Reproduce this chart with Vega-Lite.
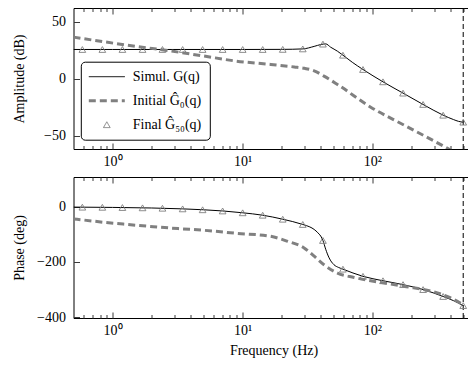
{
  "$schema": "https://vega.github.io/schema/vega-lite/v6.json",
  "padding": {"left": 11.5, "top": 7, "right": 0, "bottom": 0},
  "bounds": "flush",
  "spacing": 28,
  "background": "white",
  "datasets": {
    "amp": [
      {"f": 0.5, "v": 25.7, "s": "S"}, {"f": 1, "v": 25.7, "s": "S"}, {"f": 5, "v": 25.7, "s": "S"}, {"f": 10, "v": 25.7, "s": "S"},
      {"f": 20.4, "v": 25.8, "s": "S"}, {"f": 29.1, "v": 26.2, "s": "S"}, {"f": 35.6, "v": 28.4, "s": "S"}, {"f": 40, "v": 30.0, "s": "S"},
      {"f": 43.7, "v": 30.6, "s": "S"}, {"f": 47.7, "v": 27.7, "s": "S"}, {"f": 53.8, "v": 24.2, "s": "S"}, {"f": 59.3, "v": 20.7, "s": "S"},
      {"f": 70, "v": 14.5, "s": "S"}, {"f": 84.6, "v": 8.2, "s": "S"}, {"f": 120.6, "v": -2.6, "s": "S"}, {"f": 172.1, "v": -12.5, "s": "S"},
      {"f": 245.5, "v": -22.4, "s": "S"}, {"f": 350.3, "v": -31.8, "s": "S"}, {"f": 420, "v": -35.6, "s": "S"}, {"f": 460, "v": -37.2, "s": "S"},
      {"f": 500, "v": -37.9, "s": "S"},
      {"f": 0.5, "v": 36.5, "s": "I"}, {"f": 0.85, "v": 32.5, "s": "I"}, {"f": 1.5, "v": 28.5, "s": "I"}, {"f": 2.46, "v": 25.3, "s": "I"},
      {"f": 5, "v": 20, "s": "I"}, {"f": 9, "v": 15.5, "s": "I"}, {"f": 16.5, "v": 12.6, "s": "I"}, {"f": 25, "v": 10.4, "s": "I"},
      {"f": 30, "v": 9.2, "s": "I"}, {"f": 35.6, "v": 7, "s": "I"}, {"f": 42.4, "v": 2.4, "s": "I"}, {"f": 53.8, "v": -4.9, "s": "I"},
      {"f": 97, "v": -24.8, "s": "I"}, {"f": 175.4, "v": -40.5, "s": "I"}, {"f": 316.6, "v": -56, "s": "I"}, {"f": 500, "v": -68.5, "s": "I"},
      {"f": 0.585, "v": 25.7, "s": "F"}, {"f": 0.834, "v": 25.7, "s": "F"}, {"f": 1.19, "v": 25.7, "s": "F"}, {"f": 1.70, "v": 25.7, "s": "F"},
      {"f": 2.42, "v": 25.7, "s": "F"}, {"f": 3.46, "v": 25.7, "s": "F"}, {"f": 4.93, "v": 25.7, "s": "F"}, {"f": 7.03, "v": 25.7, "s": "F"},
      {"f": 10.03, "v": 25.7, "s": "F"}, {"f": 14.3, "v": 25.7, "s": "F"}, {"f": 20.4, "v": 25.8, "s": "F"}, {"f": 29.1, "v": 26.2, "s": "F"},
      {"f": 41.6, "v": 30.4, "s": "F"}, {"f": 59.3, "v": 20.7, "s": "F"}, {"f": 84.6, "v": 8.2, "s": "F"}, {"f": 120.6, "v": -2.6, "s": "F"},
      {"f": 172.1, "v": -12.5, "s": "F"}, {"f": 245.5, "v": -22.4, "s": "F"}, {"f": 350.3, "v": -31.8, "s": "F"}, {"f": 500, "v": -37.9, "s": "F"}
    ],
    "ph": [
      {"f": 0.5, "v": -1.1, "s": "S"}, {"f": 1, "v": -2.2, "s": "S"}, {"f": 2, "v": -4.3, "s": "S"}, {"f": 3.46, "v": -7.5, "s": "S"},
      {"f": 5, "v": -10.8, "s": "S"}, {"f": 7.03, "v": -15, "s": "S"}, {"f": 10.03, "v": -21.7, "s": "S"}, {"f": 14.3, "v": -30.5, "s": "S"},
      {"f": 20.4, "v": -45, "s": "S"}, {"f": 29.1, "v": -64, "s": "S"}, {"f": 33, "v": -73, "s": "S"}, {"f": 35.6, "v": -82, "s": "S"},
      {"f": 38, "v": -94, "s": "S"}, {"f": 40, "v": -106, "s": "S"}, {"f": 41.6, "v": -122, "s": "S"}, {"f": 43.7, "v": -154, "s": "S"},
      {"f": 46.4, "v": -185, "s": "S"}, {"f": 50.6, "v": -210, "s": "S"}, {"f": 55, "v": -220, "s": "S"}, {"f": 59.3, "v": -226, "s": "S"},
      {"f": 84.6, "v": -252, "s": "S"}, {"f": 120.6, "v": -268, "s": "S"}, {"f": 172.1, "v": -282, "s": "S"}, {"f": 245.5, "v": -300, "s": "S"},
      {"f": 350.3, "v": -325, "s": "S"}, {"f": 420, "v": -340, "s": "S"}, {"f": 500, "v": -358, "s": "S"},
      {"f": 0.5, "v": -44, "s": "I"}, {"f": 0.6, "v": -48, "s": "I"}, {"f": 0.85, "v": -56, "s": "I"}, {"f": 1.3, "v": -64, "s": "I"},
      {"f": 2.06, "v": -72, "s": "I"}, {"f": 3.2, "v": -79, "s": "I"}, {"f": 5, "v": -85, "s": "I"}, {"f": 9, "v": -96, "s": "I"},
      {"f": 16.5, "v": -107, "s": "I"}, {"f": 22.2, "v": -125, "s": "I"}, {"f": 29.8, "v": -149, "s": "I"}, {"f": 35.6, "v": -179, "s": "I"},
      {"f": 42.4, "v": -210, "s": "I"}, {"f": 53.8, "v": -240, "s": "I"}, {"f": 72.3, "v": -256, "s": "I"}, {"f": 97, "v": -268, "s": "I"},
      {"f": 175.4, "v": -288, "s": "I"}, {"f": 316.6, "v": -312, "s": "I"}, {"f": 400, "v": -330, "s": "I"}, {"f": 500, "v": -355, "s": "I"},
      {"f": 0.585, "v": -1.3, "s": "F"}, {"f": 0.834, "v": -1.8, "s": "F"}, {"f": 1.19, "v": -2.6, "s": "F"}, {"f": 1.70, "v": -3.7, "s": "F"},
      {"f": 2.42, "v": -5.2, "s": "F"}, {"f": 3.46, "v": -7.5, "s": "F"}, {"f": 4.93, "v": -10.7, "s": "F"}, {"f": 7.03, "v": -15, "s": "F"},
      {"f": 10.03, "v": -21.7, "s": "F"}, {"f": 14.3, "v": -30.5, "s": "F"}, {"f": 20.4, "v": -45, "s": "F"}, {"f": 29.1, "v": -64, "s": "F"},
      {"f": 41.6, "v": -122, "s": "F"}, {"f": 59.3, "v": -226, "s": "F"}, {"f": 84.6, "v": -252, "s": "F"}, {"f": 120.6, "v": -268, "s": "F"},
      {"f": 172.1, "v": -282, "s": "F"}, {"f": 245.5, "v": -300, "s": "F"}, {"f": 350.3, "v": -325, "s": "F"}, {"f": 500, "v": -358, "s": "F"}
    ]
  },
  "resolve": {"scale": {"color": "independent"}, "legend": {"color": "independent"}},
  "vconcat": [
    {
      "width": 400,
      "height": 141,
      "resolve": {"axis": {"x": "independent", "y": "independent"}},
      "layer": [
        {
          "data": {"values": [{"f": 500}]},
          "mark": {"type": "rule", "color": "#000", "strokeWidth": 1, "strokeDash": [5, 3]},
          "encoding": {
            "x": {"field": "f", "type": "quantitative", "scale": {"type": "log", "domain": [0.5, 600], "nice": false},
              "axis": {"orient": "bottom", "title": null, "labels": false, "domain": false, "offset": -3.5, "tickSize": 3.5,
                "values": [0.6,0.7,0.8,0.9,2,3,4,5,6,7,8,9,20,30,40,50,60,70,80,90,200,300,400,500]}}
          }
        },
        {
          "data": {"name": "amp"},
          "transform": [{"filter": "datum.s === 'S'"}],
          "mark": {"type": "line", "strokeWidth": 1, "interpolate": "monotone", "clip": true},
          "encoding": {
            "x": {"field": "f", "type": "quantitative", "scale": {"type": "log", "domain": [0.5, 600], "nice": false},
              "axis": {"orient": "top", "title": null, "labels": false, "domain": false, "offset": -6, "tickSize": 6, "values": [1, 10, 100]}},
            "y": {"field": "v", "type": "quantitative", "scale": {"domain": [-61.4, 62], "nice": false, "zero": false},
              "axis": {"orient": "right", "title": null, "labels": false, "domain": false, "offset": -6, "tickSize": 6, "values": [-50, 0, 50]}},
            "color": {"field": "s", "type": "nominal",
              "scale": {"domain": ["S", "I", "F"], "range": ["#000000", "#808080", "#808080"]},
              "legend": {
                "orient": "none", "legendX": 7.3, "legendY": 53.7, "title": null,
                "labelExpr": "datum.value === 'S' ? 'Simul. G(q)' : datum.value === 'I' ? 'Initial Ĝ₀(q)' : 'Final Ĝ₅₀(q)'",
                "encode": {
                  "symbols": {"update": {
                    "x": {"value": 18},
                    "shape": {"signal": "datum.value === 'F' ? 'triangle-up' : 'stroke'"},
                    "size": {"signal": "datum.value === 'F' ? 45 : 1296"},
                    "strokeWidth": {"signal": "datum.value === 'I' ? 3 : 1"},
                    "strokeDash": {"signal": "datum.value === 'I' ? [7, 4] : [1, 0]"},
                    "stroke": {"signal": "datum.value === 'S' ? '#000000' : '#808080'"},
                    "fill": {"value": "transparent"},
                    "opacity": {"value": 1}
                  }},
                  "labels": {"update": {"x": {"value": 44}}}
                }
              }}
          }
        },
        {
          "data": {"name": "amp"},
          "transform": [{"filter": "datum.s === 'I'"}],
          "mark": {"type": "line", "strokeWidth": 3, "strokeDash": [7, 4], "interpolate": "monotone", "clip": true},
          "encoding": {
            "x": {"field": "f", "type": "quantitative", "scale": {"type": "log", "domain": [0.5, 600], "nice": false},
              "axis": {"orient": "bottom", "title": null, "domain": false, "offset": -6, "tickSize": 6, "values": [1, 10, 100],
                "labelExpr": "datum.value == 1 ? '10⁰' : datum.value == 10 ? '10¹' : '10²'",
                "labelPadding": 5}},
            "y": {"field": "v", "type": "quantitative", "scale": {"domain": [-61.4, 62], "nice": false, "zero": false},
              "axis": {"orient": "left", "title": "Amplitude (dB)", "domain": false, "values": [-50, 0, 50], "offset": -6, "tickSize": 6, "labelPadding": 8,
                "titleX": -56.5, "titleY": 70.5, "titleBaseline": "alphabetic", "titleAngle": -90, "titleAlign": "center"}},
            "color": {"field": "s", "type": "nominal", "scale": {"domain": ["S", "I", "F"], "range": ["#000000", "#808080", "#808080"]}}
          }
        },
        {
          "data": {"name": "amp"},
          "transform": [{"filter": "datum.s === 'F'"}],
          "mark": {"type": "point", "shape": "triangle-up", "filled": false, "size": 45, "strokeWidth": 0.9, "opacity": 1},
          "encoding": {
            "x": {"field": "f", "type": "quantitative", "scale": {"type": "log", "domain": [0.5, 600], "nice": false},
              "axis": {"orient": "top", "title": null, "labels": false, "domain": false, "offset": -3.5, "tickSize": 3.5,
                "values": [0.6,0.7,0.8,0.9,2,3,4,5,6,7,8,9,20,30,40,50,60,70,80,90,200,300,400,500]}},
            "y": {"field": "v", "type": "quantitative", "scale": {"domain": [-61.4, 62], "nice": false, "zero": false}, "axis": null},
            "color": {"field": "s", "type": "nominal", "scale": {"domain": ["S", "I", "F"], "range": ["#000000", "#808080", "#808080"]}}
          }
        }
      ]
    },
    {
      "width": 400,
      "height": 141,
      "resolve": {"axis": {"x": "independent", "y": "independent"}},
      "layer": [
        {
          "data": {"values": [{"f": 500}]},
          "mark": {"type": "rule", "color": "#000", "strokeWidth": 1, "strokeDash": [5, 3]},
          "encoding": {
            "x": {"field": "f", "type": "quantitative", "scale": {"type": "log", "domain": [0.5, 600], "nice": false},
              "axis": {"orient": "bottom", "title": null, "labels": false, "domain": false, "offset": -3.5, "tickSize": 3.5,
                "values": [0.6,0.7,0.8,0.9,2,3,4,5,6,7,8,9,20,30,40,50,60,70,80,90,200,300,400,500]}}
          }
        },
        {
          "data": {"name": "ph"},
          "transform": [{"filter": "datum.s === 'S'"}],
          "mark": {"type": "line", "strokeWidth": 1, "color": "#000000", "interpolate": "monotone", "clip": true},
          "encoding": {
            "x": {"field": "f", "type": "quantitative", "scale": {"type": "log", "domain": [0.5, 600], "nice": false},
              "axis": {"orient": "top", "title": null, "labels": false, "domain": false, "offset": -6, "tickSize": 6, "values": [1, 10, 100]}},
            "y": {"field": "v", "type": "quantitative", "scale": {"domain": [-403, 108], "nice": false, "zero": false},
              "axis": {"orient": "right", "title": null, "labels": false, "domain": false, "offset": -6, "tickSize": 6, "values": [-400, -200, 0]}}
          }
        },
        {
          "data": {"name": "ph"},
          "transform": [{"filter": "datum.s === 'I'"}],
          "mark": {"type": "line", "strokeWidth": 3, "strokeDash": [7, 4], "color": "#808080", "interpolate": "monotone", "clip": true},
          "encoding": {
            "x": {"field": "f", "type": "quantitative", "scale": {"type": "log", "domain": [0.5, 600], "nice": false},
              "axis": {"orient": "bottom", "title": "Frequency (Hz)", "domain": false, "offset": -6, "tickSize": 6, "values": [1, 10, 100],
                "labelExpr": "datum.value == 1 ? '10⁰' : datum.value == 10 ? '10¹' : '10²'",
                "labelPadding": 5, "titlePadding": 6}},
            "y": {"field": "v", "type": "quantitative", "scale": {"domain": [-403, 108], "nice": false, "zero": false},
              "axis": {"orient": "left", "title": "Phase (deg)", "domain": false, "values": [-400, -200, 0], "offset": -6, "tickSize": 6, "labelPadding": 8,
                "titleX": -56.5, "titleY": 70.5, "titleBaseline": "alphabetic", "titleAngle": -90, "titleAlign": "center"}}
          }
        },
        {
          "data": {"name": "ph"},
          "transform": [{"filter": "datum.s === 'F'"}],
          "mark": {"type": "point", "shape": "triangle-up", "filled": false, "size": 45, "strokeWidth": 0.9, "color": "#808080", "opacity": 1},
          "encoding": {
            "x": {"field": "f", "type": "quantitative", "scale": {"type": "log", "domain": [0.5, 600], "nice": false},
              "axis": {"orient": "top", "title": null, "labels": false, "domain": false, "offset": -3.5, "tickSize": 3.5,
                "values": [0.6,0.7,0.8,0.9,2,3,4,5,6,7,8,9,20,30,40,50,60,70,80,90,200,300,400,500]}},
            "y": {"field": "v", "type": "quantitative", "scale": {"domain": [-403, 108], "nice": false, "zero": false}, "axis": null}
          }
        }
      ]
    }
  ],
  "config": {
    "font": "Liberation Serif",
    "view": {"stroke": "#000000", "strokeWidth": 1},
    "axis": {
      "labelFont": "Liberation Serif", "titleFont": "Liberation Serif",
      "labelFontSize": 14, "titleFontSize": 14, "titleFontWeight": "normal",
      "labelColor": "#000000", "titleColor": "#000000",
      "grid": false, "domain": false, "ticks": true, "tickColor": "#3a3a3a", "tickWidth": 1, "zindex": 1
    },
    "legend": {
      "labelFont": "Liberation Serif", "labelFontSize": 14, "labelColor": "#000000",
      "strokeColor": "#000000", "fillColor": "#ffffff", "cornerRadius": 4, "padding": 8,
      "rowPadding": 10, "labelOffset": 8, "symbolSize": 1296, "symbolStrokeWidth": 1
    }
  }
}
